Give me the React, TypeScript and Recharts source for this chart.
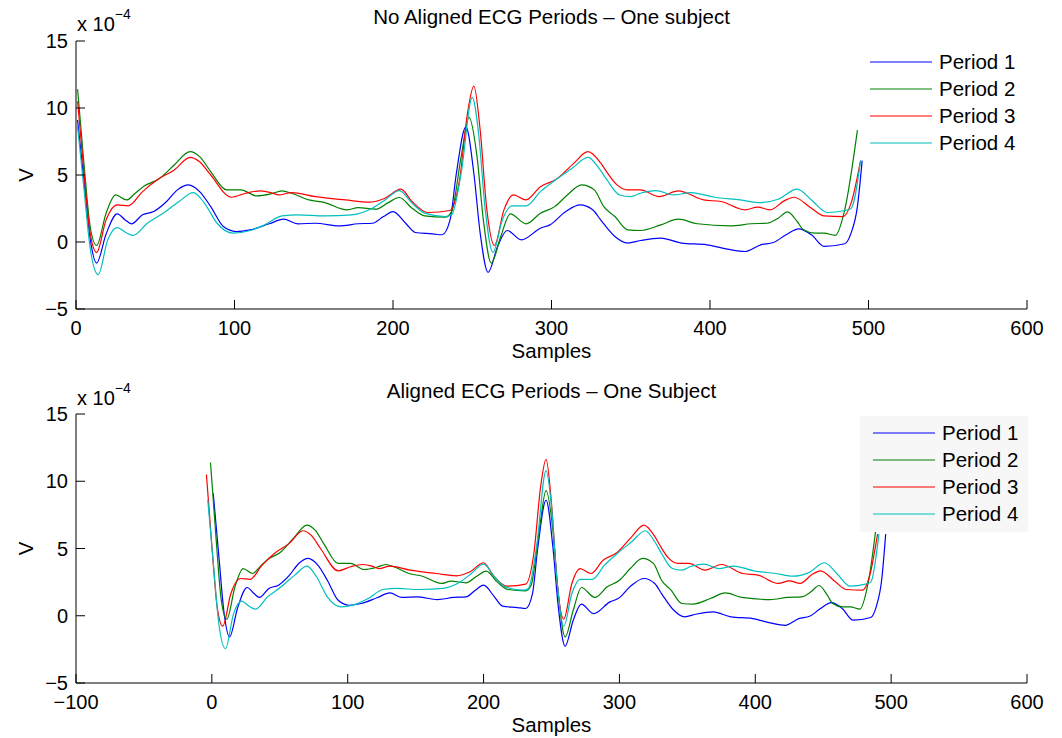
import React from "react";
import { LineChart, Line, XAxis, YAxis, Legend } from "recharts";

const FONT = "'Liberation Sans', Arial, Helvetica, sans-serif";
const FS = 20.5;
const TICK_FS = 20;

// sample index and amplitude (x 10^-4 V) of each ECG period
const p1Samples = [1, 5, 9, 13, 19, 26, 31, 35, 42, 49, 57, 64, 71, 78, 85, 93, 101, 110, 122, 131, 140, 151, 166, 178, 187, 194, 200, 208, 214, 225, 231, 236, 240, 246, 251, 255, 260, 266, 272, 281, 293, 299, 309, 318, 326, 331, 340, 348, 356, 369, 382, 398, 411, 422, 432, 440, 448, 456, 464, 472, 485, 489, 493, 496];
const p1Values = [9.1, 4.6, 0.2, -1.57, 0.6, 2.1, 1.65, 1.36, 2.03, 2.27, 3.0, 3.89, 4.26, 3.76, 2.64, 1.15, 0.78, 0.91, 1.36, 1.7, 1.36, 1.4, 1.2, 1.36, 1.4, 1.9, 2.27, 1.4, 0.71, 0.61, 0.54, 1.65, 5.13, 8.6, 5.13, 0.66, -2.27, -0.33, 0.86, 0.16, 1.03, 1.28, 2.27, 2.77, 2.4, 1.65, 0.41, -0.08, 0.11, 0.29, -0.08, -0.21, -0.53, -0.71, -0.21, -0.04, 0.54, 0.98, 0.54, -0.33, -0.13, 0.66, 2.64, 6.07];

const p2Samples = [1, 5, 9, 13, 19, 25, 32, 37, 43, 52, 62, 72, 78, 85, 95, 104, 114, 123, 130, 136, 147, 157, 171, 178, 189, 197, 204, 212, 220, 233, 237, 243, 248, 253, 257, 262, 268, 274, 284, 293, 302, 310, 319, 327, 333, 340, 348, 356, 369, 380, 392, 413, 426, 436, 443, 449, 455, 459, 466, 472, 479, 485, 493];
const p2Values = [11.4, 5.9, 1.1, -0.26, 2.15, 3.51, 3.14, 3.6, 4.18, 4.68, 5.75, 6.74, 6.37, 5.25, 3.89, 3.89, 3.44, 3.59, 3.81, 3.64, 3.14, 2.94, 2.4, 2.57, 2.45, 2.94, 3.32, 2.52, 1.95, 1.85, 2.27, 6.37, 9.3, 6.37, 1.65, -1.57, 0.41, 2.1, 1.36, 2.15, 2.64, 3.51, 4.26, 3.89, 2.64, 1.9, 0.91, 0.86, 1.28, 1.7, 1.36, 1.2, 1.36, 1.4, 1.78, 2.25, 1.53, 0.91, 0.66, 0.66, 0.49, 2.4, 8.35];

const p3Samples = [1, 5, 9, 13, 19, 26, 33, 42, 51, 62, 72, 78, 85, 98, 107, 116, 123, 128, 136, 151, 170, 185, 195, 205, 212, 222, 236, 242, 247, 251, 255, 259, 264, 270, 276, 284, 293, 303, 314, 323, 331, 335, 341, 348, 356, 368, 380, 396, 407, 422, 430, 438, 447, 453, 464, 472, 484, 489, 495];
const p3Values = [10.5, 5.2, 0.6, -0.78, 1.65, 2.77, 2.7, 3.76, 4.63, 5.38, 6.32, 5.99, 5.0, 3.34, 3.64, 3.81, 3.69, 3.51, 3.69, 3.39, 3.14, 2.97, 3.27, 3.94, 3.02, 2.2, 2.35, 4.63, 9.6, 11.63, 8.35, 2.64, -0.26, 2.4, 3.51, 3.14, 4.13, 4.68, 5.87, 6.74, 5.9, 5.2, 4.3, 3.89, 3.89, 3.39, 3.81, 3.14, 3.02, 2.4, 2.6, 2.4, 3.09, 3.34, 2.52, 1.95, 1.9, 2.9, 6.07];

const p4Samples = [1, 5, 9, 14, 20, 26, 31, 36, 45, 55, 65, 74, 81, 89, 99, 110, 119, 130, 140, 157, 174, 187, 195, 204, 212, 220, 233, 237, 243, 250, 254, 258, 263, 269, 275, 284, 293, 303, 313, 323, 330, 335, 343, 350, 356, 366, 377, 388, 403, 419, 432, 443, 455, 464, 474, 485, 489, 495];
const p4Values = [8.6, 4.0, -0.5, -2.44, 0.16, 1.08, 0.74, 0.49, 1.4, 2.15, 3.02, 3.69, 2.9, 1.4, 0.66, 0.86, 1.28, 1.95, 2.03, 1.95, 2.03, 2.52, 3.14, 3.84, 2.9, 2.15, 1.9, 2.03, 5.13, 10.79, 8.1, 2.64, -0.78, 1.65, 2.7, 2.7, 3.76, 4.68, 5.5, 6.32, 5.5, 4.63, 3.51, 3.39, 3.64, 3.84, 3.51, 3.69, 3.34, 3.14, 2.94, 3.19, 3.94, 3.14, 2.2, 2.35, 2.5, 6.07];

const periodNames = ["Period 1", "Period 2", "Period 3", "Period 4"];
const periodColors = ["#0000ff", "#008000", "#ff0000", "#00bfbf"];
// lag in samples that lines each period's R peak up with period 1
const alignShift = [0, -2, -5, -4];

const yTicks = [-5, 0, 5, 10, 15];
const rawXTicks = [0, 100, 200, 300, 400, 500, 600];
const alignedXTicks = [-100, 0, 100, 200, 300, 400, 500, 600];

const periodSamples = [p1Samples, p2Samples, p3Samples, p4Samples];
const periodValues = [p1Values, p2Values, p3Values, p4Values];

const toPoints = (k: number, shift: number) =>
  periodSamples[k].map((s, i) => ({ s: s + shift, v: periodValues[k][i] }));

const fmt = (n: number) => (n < 0 ? "\u2212" + Math.abs(n) : String(n));

const XTick = (props: any) => {
  const { x, y, payload } = props;
  return (
    <g>
      <line x1={x} x2={x} y1={y} y2={y - 9} stroke="#000" strokeWidth={1} />
      <text x={x} y={y + 26} textAnchor="middle" fontSize={TICK_FS} fontFamily={FONT} fill="#000">
        {fmt(payload.value)}
      </text>
    </g>
  );
};

const YTick = (props: any) => {
  const { x, y, payload } = props;
  return (
    <g>
      <line x1={x} x2={x + 9} y1={y} y2={y} stroke="#000" strokeWidth={1} />
      <text x={x - 8} y={y + 7} textAnchor="end" fontSize={TICK_FS} fontFamily={FONT} fill="#000">
        {fmt(payload.value)}
      </text>
    </g>
  );
};

const VLabel = (props: any) => {
  const vb = props.viewBox;
  const cx = 32.5;
  const cy = vb.y + vb.height / 2;
  return (
    <text x={cx} y={cy} transform={`rotate(-90 ${cx} ${cy})`} textAnchor="middle" fontSize={FS} fontFamily={FONT} fill="#000">
      V
    </text>
  );
};

const SamplesLabel = (props: any) => {
  const vb = props.viewBox;
  return (
    <text x={vb.x + vb.width / 2} y={vb.y + 48.5} textAnchor="middle" fontSize={FS} fontFamily={FONT} fill="#000">
      Samples
    </text>
  );
};

const PeriodLegend = (props: any) => {
  const { payload, boxed } = props;
  return (
    <div
      style={{
        background: boxed ? "#f7f7f7" : "transparent",
        padding: boxed ? "4px 0 4px 13px" : 0,
        fontFamily: FONT,
        fontSize: FS,
        color: "#000",
        boxSizing: "border-box",
        width: boxed ? 168 : 160
      }}
    >
      {(payload || []).map((p: any) => (
        <div key={p.value} style={{ display: "flex", alignItems: "center", height: 26.9 }}>
          <svg width={62} height={4} style={{ marginRight: 7, display: "block" }}>
            <line x1={0} x2={62} y1={2} y2={2} stroke={p.color} strokeWidth={1.2} />
          </svg>
          <span style={{ lineHeight: "20px", whiteSpace: "nowrap" }}>{p.value}</span>
        </div>
      ))}
    </div>
  );
};

const EcgPanel = ({ aligned }: { aligned: boolean }) => {
  const top = aligned ? 45 : 41;
  const axisHeight = aligned ? 55 : 60;
  return (
    <LineChart width={1062} height={369} margin={{ top, right: 35, bottom: 0, left: 0 }}>
      <XAxis
        type="number"
        dataKey="s"
        domain={aligned ? [-100, 600] : [0, 600]}
        ticks={aligned ? alignedXTicks : rawXTicks}
        interval={0}
        height={axisHeight}
        tickSize={0}
        tickMargin={0}
        tickLine={false}
        axisLine={{ stroke: "#000", strokeWidth: 1 }}
        tick={<XTick />}
        label={{ content: <SamplesLabel /> }}
      />
      <YAxis
        type="number"
        domain={[-5, 15]}
        ticks={yTicks}
        interval={0}
        width={76}
        tickSize={0}
        tickMargin={0}
        tickLine={false}
        axisLine={{ stroke: "#000", strokeWidth: 1 }}
        tick={<YTick />}
        label={{ content: <VLabel /> }}
      />
      {periodNames.map((name, k) => (
        <Line
          key={name}
          name={name}
          data={toPoints(k, aligned ? alignShift[k] : 0)}
          dataKey="v"
          type="monotone"
          stroke={periodColors[k]}
          strokeWidth={1.2}
          dot={false}
          activeDot={false}
          isAnimationActive={false}
        />
      ))}
      <Legend
        layout="vertical"
        align="center"
        verticalAlign="middle"
        wrapperStyle={aligned ? { left: 860, top: 47, width: 168 } : { left: 870, top: 49, width: 160 }}
        content={(p: any) => <PeriodLegend {...p} boxed={aligned} />}
      />
    </LineChart>
  );
};

const App = () => {
  return (
    <div style={{ position: "absolute", left: 0, top: 0, width: 1062, height: 738, background: "#fff" }}>
      <div style={{ position: "absolute", left: 0, top: 0 }}>
        <EcgPanel aligned={false} />
      </div>
      <div style={{ position: "absolute", left: 0, top: 369 }}>
        <EcgPanel aligned={true} />
      </div>
      <svg width={1062} height={738} style={{ position: "absolute", left: 0, top: 0, pointerEvents: "none" }}>
        <g fontFamily={FONT} fill="#000">
          <text x={551.5} y={24} textAnchor="middle" fontSize={FS}>
            No Aligned ECG Periods – One subject
          </text>
          <text x={551.5} y={398} textAnchor="middle" fontSize={FS}>
            Aligned ECG Periods – One Subject
          </text>
          <text x={77} y={31} fontSize={TICK_FS}>
            x 10<tspan dy={-12} fontSize={14}>{"\u22124"}</tspan>
          </text>
          <text x={77} y={405} fontSize={TICK_FS}>
            x 10<tspan dy={-12} fontSize={14}>{"\u22124"}</tspan>
          </text>
        </g>
      </svg>
    </div>
  );
};

export default App;
